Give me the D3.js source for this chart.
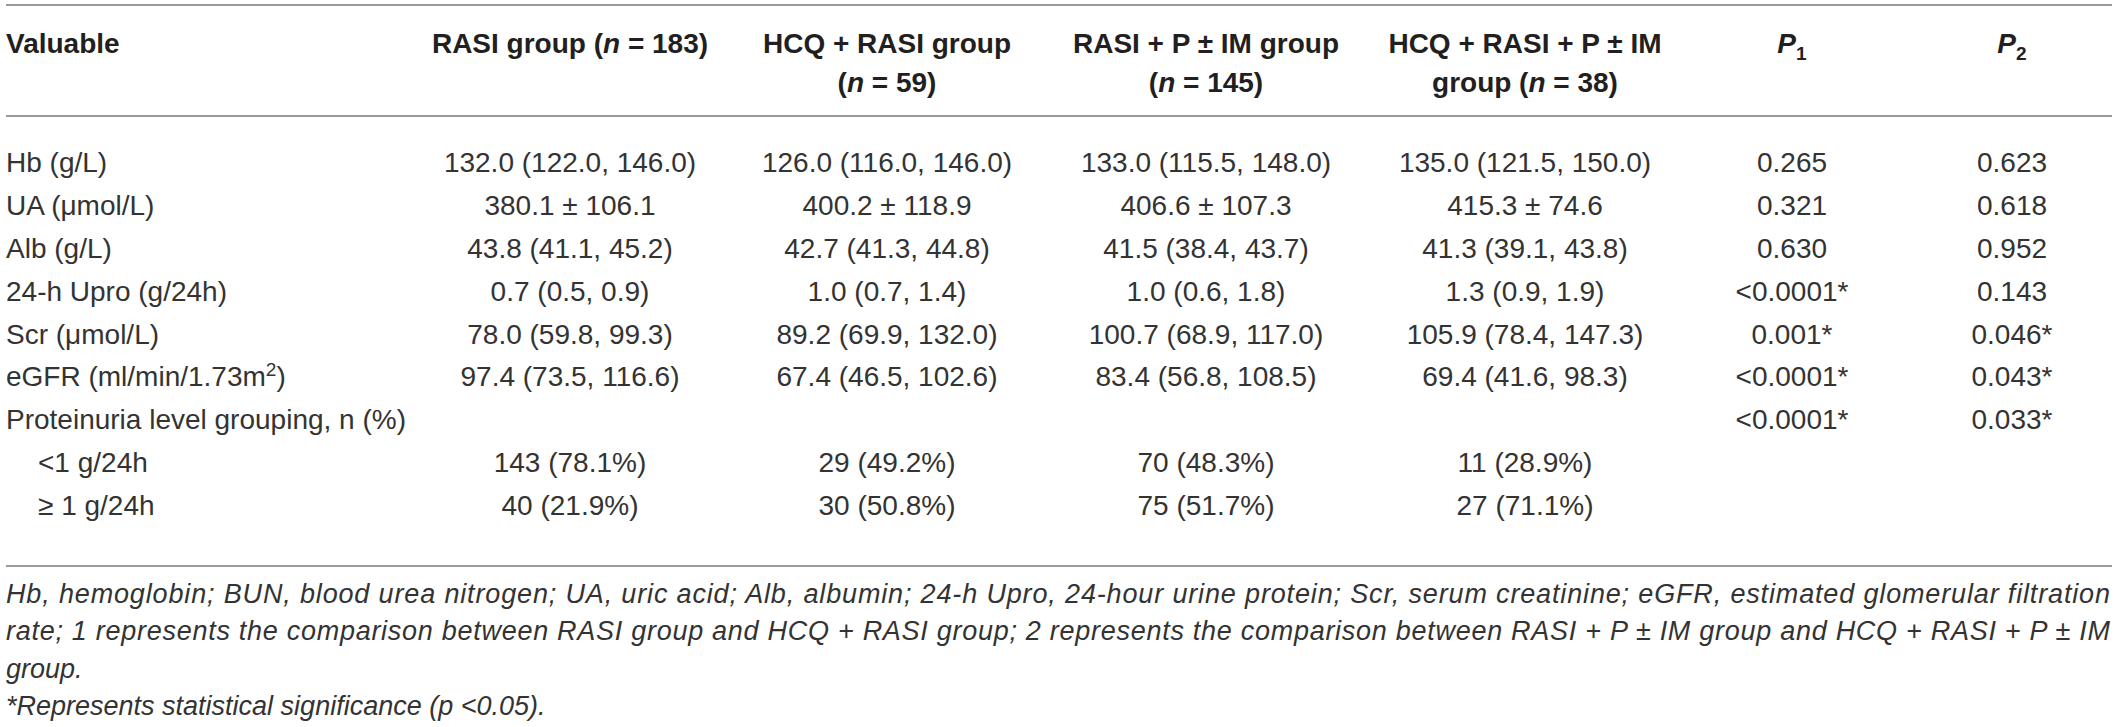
<!DOCTYPE html>
<html>
<head>
<meta charset="utf-8">
<script src="https://cdn.jsdelivr.net/npm/d3@7"></script>
<style>
  body { margin: 0; background: #fff; }
  svg { display: block; }
</style>
</head>
<body>
<svg id="table"></svg>
<script>
// Таблица: данные
const headerLines = [
    ["Valuable"],
    ["RASI group (<i>n</i> = 183)"],
    ["HCQ + RASI group", "(<i>n</i> = 59)"],
    ["RASI + P ± IM group", "(<i>n</i> = 145)"],
    ["HCQ + RASI + P ± IM", "group (<i>n</i> = 38)"],
    ["<i>P</i><sub>1</sub>"],
    ["<i>P</i><sub>2</sub>"]
];

const rowLabels = [
    "Hb (g/L)",
    "UA (μmol/L)",
    "Alb (g/L)",
    "24-h Upro (g/24h)",
    "Scr (μmol/L)",
    "eGFR (ml/min/1.73m<sup>2</sup>)",
    "Proteinuria level grouping, n (%)",
    "<1 g/24h",
    "≥ 1 g/24h"
];
const subRows = ["<1 g/24h", "≥ 1 g/24h"];

const rasiGroup = ["132.0 (122.0, 146.0)", "380.1 ± 106.1", "43.8 (41.1, 45.2)", "0.7 (0.5, 0.9)",
    "78.0 (59.8, 99.3)", "97.4 (73.5, 116.6)", "", "143 (78.1%)", "40 (21.9%)"];
const hcqRasiGroup = ["126.0 (116.0, 146.0)", "400.2 ± 118.9", "42.7 (41.3, 44.8)", "1.0 (0.7, 1.4)",
    "89.2 (69.9, 132.0)", "67.4 (46.5, 102.6)", "", "29 (49.2%)", "30 (50.8%)"];
const rasiPimGroup = ["133.0 (115.5, 148.0)", "406.6 ± 107.3", "41.5 (38.4, 43.7)", "1.0 (0.6, 1.8)",
    "100.7 (68.9, 117.0)", "83.4 (56.8, 108.5)", "", "70 (48.3%)", "75 (51.7%)"];
const hcqRasiPimGroup = ["135.0 (121.5, 150.0)", "415.3 ± 74.6", "41.3 (39.1, 43.8)", "1.3 (0.9, 1.9)",
    "105.9 (78.4, 147.3)", "69.4 (41.6, 98.3)", "", "11 (28.9%)", "27 (71.1%)"];
const p1Values = ["0.265", "0.321", "0.630", "<0.0001*", "0.001*", "<0.0001*", "<0.0001*", "", ""];
const p2Values = ["0.623", "0.618", "0.952", "0.143", "0.046*", "0.043*", "0.033*", "", ""];

const footnoteLines = [
    "Hb, hemoglobin; BUN, blood urea nitrogen; UA, uric acid; Alb, albumin; 24-h Upro, 24-hour urine protein; Scr, serum creatinine; eGFR, estimated glomerular filtration",
    "rate; 1 represents the comparison between RASI group and HCQ + RASI group; 2 represents the comparison between RASI + P ± IM group and HCQ + RASI + P ± IM",
    "group.",
    "*Represents statistical significance (p <0.05)."
];

document.addEventListener("DOMContentLoaded", drawTable);

// Текст с <i>, <sup>, <sub>
function richText(textSel, str, size) {
    const parts = str.split(/(<\/?(?:i|sup|sub)>)/).filter(s => s !== "");
    let italic = false;
    let mode = null;
    let shift = 0;
    parts.forEach(p => {
        if (p === "<i>") italic = true;
        else if (p === "</i>") italic = false;
        else if (p === "<sup>") mode = "sup";
        else if (p === "<sub>") mode = "sub";
        else if (p === "</sup>" || p === "</sub>") mode = null;
        else {
            const target = mode === "sup" ? -size * 0.36 : mode === "sub" ? size * 0.26 : 0;
            const t = textSel.append("tspan").text(p).attr("dy", target - shift);
            shift = target;
            if (italic) t.attr("font-style", "italic");
            if (mode) t.attr("font-size", size * 0.68);
        }
    });
}

function drawTable() {
    const width = 2118;
    const height = 727;
    const left = 6;
    const right = 2112;
    const fontSize = 28;

    const svg = d3.select("svg#table")
        .attr("width", width)
        .attr("height", height)
        .style("font-family", "'Liberation Sans', Arial, Helvetica, sans-serif");

    svg.append("rect")
        .attr("width", width)
        .attr("height", height)
        .attr("fill", "white");

    const columns = [rasiGroup, hcqRasiGroup, rasiPimGroup, hcqRasiPimGroup, p1Values, p2Values];
    const colX = d3.scaleOrdinal()
        .domain(d3.range(columns.length))
        .range([570, 887, 1206, 1525, 1792, 2012]);

    const rowY = d3.scalePoint()
        .domain(d3.range(rowLabels.length))
        .range([172, 515]);

    const headerY = d3.scalePoint()
        .domain([0, 1])
        .range([53, 92]);

    // Линии
    const rules = [5, 116, 566];
    svg.selectAll("line.rule")
        .data(rules)
        .join("line")
        .attr("class", "rule")
        .attr("x1", left)
        .attr("x2", right)
        .attr("y1", d => d)
        .attr("y2", d => d)
        .attr("stroke", "#9a9a9a")
        .attr("stroke-width", 2);

    // Заголовок
    const header = svg.append("g")
        .attr("font-weight", "bold")
        .attr("font-size", fontSize)
        .attr("fill", "#231f20");

    headerLines.forEach((lines, ci) => {
        lines.forEach((line, li) => {
            const t = header.append("text")
                .attr("y", headerY(li));
            if (ci === 0) {
                t.attr("x", left).attr("text-anchor", "start");
            } else {
                t.attr("x", colX(ci - 1)).attr("text-anchor", "middle");
            }
            richText(t, line, fontSize);
        });
    });

    // Тело
    const body = svg.append("g")
        .attr("font-size", fontSize)
        .attr("fill", "#333");

    rowLabels.forEach((label, ri) => {
        const t = body.append("text")
            .attr("x", subRows.includes(label) ? 38 : left)
            .attr("y", rowY(ri));
        richText(t, label, fontSize);
    });

    columns.forEach((values, ci) => {
        body.selectAll(null)
            .data(values)
            .join("text")
            .attr("x", colX(ci))
            .attr("y", (d, i) => rowY(i))
            .attr("text-anchor", "middle")
            .text(d => d);
    });

    // Примечание
    const noteY = d3.scalePoint()
        .domain(d3.range(footnoteLines.length))
        .range([603, 715]);

    const notes = svg.append("g")
        .attr("font-size", 27)
        .attr("font-style", "italic")
        .attr("fill", "#333");

    footnoteLines.forEach((line, i) => {
        const t = notes.append("text")
            .attr("x", left)
            .attr("y", noteY(i))
            .text(line);
        if (i < 2) {
            t.attr("textLength", right - left - 2)
                .attr("lengthAdjust", "spacing");
        }
    });
}
</script>
</body>
</html>
